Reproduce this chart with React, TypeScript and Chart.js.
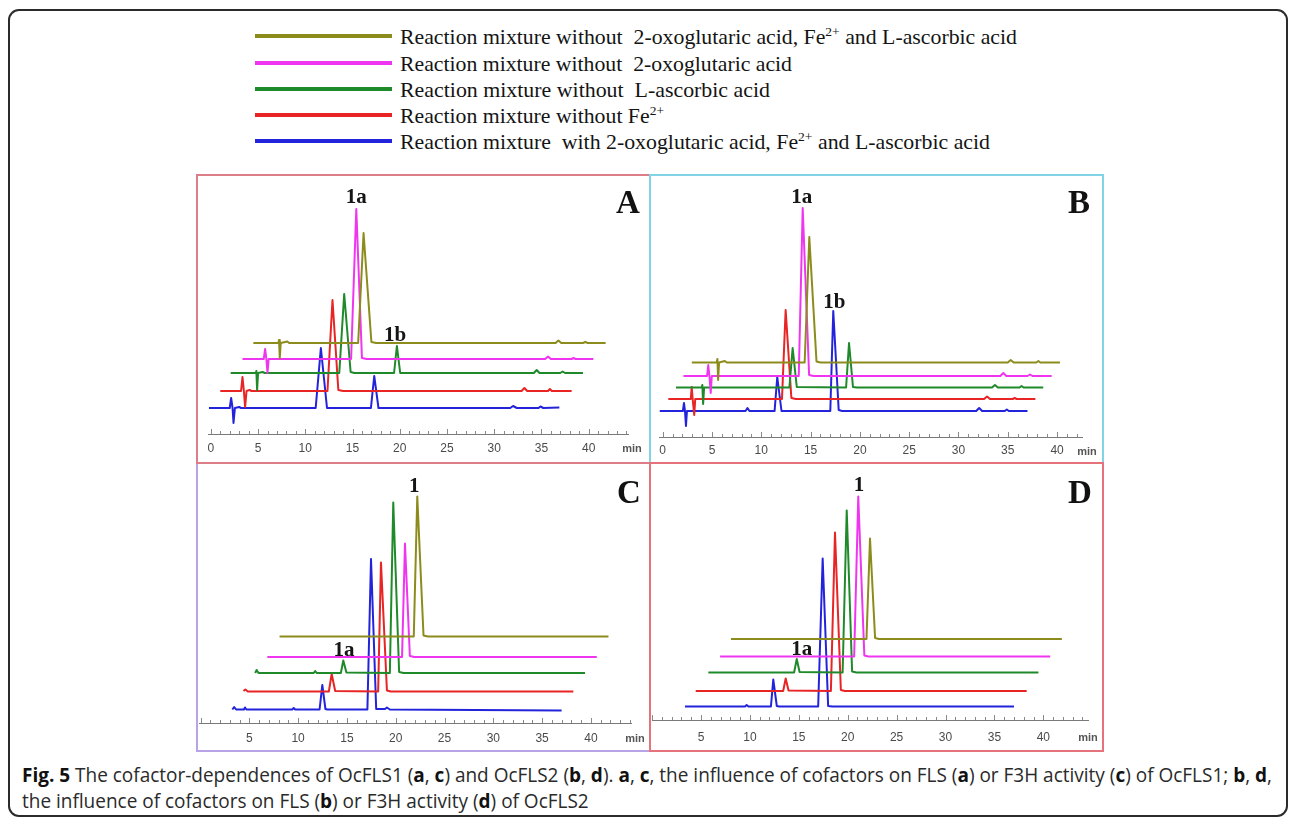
import React, { useEffect, useLayoutEffect, useRef } from 'react';
import { Chart, registerables } from 'chart.js';

Chart.register(...registerables);

type Pt = [number, number]; // [retention time (min), plotted intensity]

// ---------- Legend ----------
const SERIES_NAMES = [
  'Reaction mixture without  2-oxoglutaric acid, Fe2+ and L-ascorbic acid',
  'Reaction mixture without  2-oxoglutaric acid',
  'Reaction mixture without  L-ascorbic acid',
  'Reaction mixture without Fe2+',
  'Reaction mixture  with 2-oxoglutaric acid, Fe2+ and L-ascorbic acid',
];

// ---------- Axis tick labels ----------
const TICKS_AB = [0, 5, 10, 15, 20, 25, 30, 35, 40];
const TICKS_CD = [5, 10, 15, 20, 25, 30, 35, 40];

// ---------- Panel A ----------
const A_OLIVE: Pt[] = [[4.5, 91], [7.15, 91], [7.22, 94], [7.3, 76], [7.4, 91], [8.1, 92.5], [8.3, 91], [15.6, 91], [16.17, 201], [17.0, 92], [17.5, 91], [36.5, 91], [36.8, 93.5], [37.1, 91], [39.4, 91], [39.65, 92], [39.9, 91], [41.8, 91]];
const A_MAGENTA: Pt[] = [[3.35, 75], [5.6, 75], [5.75, 85], [5.88, 75], [6.0, 61], [6.12, 75], [14.85, 75], [15.4, 225], [16.0, 76], [16.5, 75], [35.4, 75], [35.7, 77.5], [36.0, 75], [38.2, 75], [38.4, 76], [38.6, 75], [40.5, 75]];
const A_GREEN: Pt[] = [[2.1, 61], [4.75, 61], [4.82, 63], [4.9, 44], [5.0, 61], [5.5, 62], [5.7, 61], [13.6, 61], [14.12, 140], [14.8, 62], [15.2, 61], [19.4, 61], [19.7, 88], [20.05, 61], [34.2, 61], [34.5, 64], [34.8, 61], [37.0, 61], [37.25, 62.5], [37.5, 61], [39.4, 61]];
const A_RED: Pt[] = [[1.0, 43], [3.2, 43], [3.35, 57], [3.5, 43], [3.63, 27], [3.78, 43], [4.1, 44], [4.3, 43], [12.35, 43], [12.88, 134], [13.5, 44], [14.0, 43], [32.9, 43], [33.2, 46], [33.5, 43], [35.7, 43], [35.9, 45], [36.1, 43], [38.2, 43]];
const A_BLUE: Pt[] = [[-0.2, 26], [2.0, 26], [2.15, 36], [2.3, 26], [2.4, 11], [2.55, 26], [3.0, 27], [3.2, 26], [11.1, 26], [11.65, 86], [12.3, 26], [16.95, 26], [17.3, 58], [17.75, 26], [31.7, 26], [32.0, 28], [32.4, 26], [34.7, 26], [34.9, 27.5], [35.2, 26], [36.9, 26.5]];
const A_LABELS: [string, number, number][] = [['1a', 15.4, 236], ['1b', 19.5, 98]];

// ---------- Panel B ----------
const B_OLIVE: Pt[] = [[2.95, 74.5], [5.48, 74.5], [5.55, 78], [5.62, 57], [5.72, 74.5], [6.3, 76], [6.5, 74.5], [14.4, 74.5], [14.87, 200], [15.6, 75.5], [16.0, 74.5], [35.0, 74.5], [35.3, 77], [35.6, 74.5], [37.9, 74.5], [38.1, 76], [38.3, 74.5], [40.3, 74.5]];
const B_MAGENTA: Pt[] = [[2.1, 61], [4.5, 61], [4.62, 72], [4.74, 61], [4.87, 44], [4.98, 61], [13.8, 61], [14.2, 229], [14.85, 62], [15.3, 61], [34.25, 61], [34.55, 64], [34.85, 61], [37.0, 61], [37.25, 62.5], [37.5, 61], [39.45, 61]];
const B_GREEN: Pt[] = [[1.35, 49.5], [3.95, 49.5], [4.02, 52], [4.1, 33], [4.2, 49.5], [12.85, 49.5], [13.18, 89], [13.6, 50], [18.6, 49.5], [18.9, 94], [19.3, 50], [19.7, 49.5], [33.4, 49.5], [33.7, 52], [34.0, 49.5], [36.2, 49.5], [36.4, 51], [36.6, 49.5], [38.6, 49.5]];
const B_RED: Pt[] = [[0.57, 38], [2.85, 38], [2.94, 50], [3.04, 38], [3.2, 22], [3.3, 38], [12.1, 38], [12.47, 127], [13.05, 39], [13.5, 38], [32.6, 38], [32.9, 40.5], [33.2, 38], [35.5, 38], [35.7, 39], [35.9, 38], [37.8, 38]];
const B_BLUE: Pt[] = [[-0.3, 26], [2.05, 26], [2.16, 34], [2.26, 26], [2.36, 11], [2.46, 26], [8.4, 26], [8.6, 29], [8.8, 26], [11.35, 26], [11.62, 60], [12.05, 26], [17.0, 26], [17.3, 126], [17.85, 27], [18.2, 26], [31.8, 26], [32.1, 29], [32.4, 26], [34.7, 26], [34.9, 27.5], [35.1, 26], [37.0, 26]];
const B_LABELS: [string, number, number][] = [['1a', 14.1, 239], ['1b', 17.4, 134]];

// ---------- Panel C ----------
const C_OLIVE: Pt[] = [[8.1, 86.5], [21.85, 86.5], [22.21, 226.5], [22.85, 87.5], [23.3, 86.5], [41.8, 86.5]];
const C_MAGENTA: Pt[] = [[6.85, 66], [20.65, 66], [20.95, 179.5], [21.45, 67], [21.9, 66], [40.6, 66]];
const C_GREEN: Pt[] = [[5.6, 50], [5.75, 53], [5.95, 50], [11.6, 50], [11.75, 52], [11.9, 50], [14.38, 50], [14.63, 62.5], [14.95, 50.5], [19.4, 50], [19.75, 220.5], [20.35, 51], [20.8, 50], [39.4, 50]];
const C_RED: Pt[] = [[4.4, 32], [4.6, 33.5], [4.85, 31.5], [13.15, 31.5], [13.44, 49], [13.8, 32], [18.2, 31.5], [18.49, 160.5], [19.1, 32.5], [19.5, 31.5], [38.2, 31.5]];
const C_BLUE: Pt[] = [[3.26, 13.5], [3.45, 16], [3.65, 13.5], [4.45, 13.5], [4.56, 15.5], [4.7, 13.5], [9.4, 13.5], [9.55, 15], [9.7, 13.5], [12.2, 13.5], [12.48, 38], [12.8, 14], [13.0, 13.5], [17.1, 13.5], [17.47, 164], [18.0, 14], [18.9, 14], [19.1, 15.5], [19.4, 13.5], [37.0, 12.5]];
const C_LABELS: [string, number, number][] = [['1', 21.9, 236], ['1a', 14.7, 72]];

// ---------- Panel D ----------
const D_OLIVE: Pt[] = [[8.07, 81], [21.92, 81], [22.28, 181.5], [22.8, 82], [23.2, 81], [41.9, 81]];
const D_MAGENTA: Pt[] = [[6.95, 63.5], [20.66, 63.5], [21.08, 223.5], [21.7, 64.5], [22.1, 63.5], [40.7, 63.5]];
const D_GREEN: Pt[] = [[5.75, 47.5], [14.52, 47.5], [14.79, 61], [15.08, 48], [19.48, 47.5], [19.9, 209.5], [20.45, 48.5], [20.9, 47.5], [39.5, 47.5]];
const D_RED: Pt[] = [[4.46, 29], [13.4, 29], [13.66, 41.5], [13.95, 29.5], [18.28, 29], [18.7, 187.5], [19.3, 30], [19.7, 29], [38.3, 29]];
const D_BLUE: Pt[] = [[3.36, 13.5], [9.5, 13.5], [9.67, 15], [9.85, 13.5], [12.15, 13.5], [12.39, 40.5], [12.75, 14], [13.0, 13.5], [16.98, 13.5], [17.44, 161.5], [18.0, 14], [18.4, 13.5], [37.0, 13.5]];
const D_LABELS: [string, number, number][] = [['1', 21.15, 234], ['1a', 15.3, 70]];

// ---------- Styles ----------
const COLORS = ['#8c8c1c', '#f035f0', '#1f8a2a', '#e82424', '#2323dc'];

type PanelCfg = {
  key: string; traces: Pt[][]; labels: [string, number, number][]; ticks: number[];
  left: number; top: number; w: number; h: number; padL: number; padR: number;
  xmin: number; xmax: number; ymax: number; axisH: number; tickPad: number;
  border: string; box: [number, number, number, number];
  letter: [number, number]; minPos: [number, number];
};

const PANELS: PanelCfg[] = [
  { key: 'C', traces: [C_OLIVE, C_MAGENTA, C_GREEN, C_RED, C_BLUE], labels: C_LABELS, ticks: TICKS_CD,
    left: 198, top: 464, w: 451, h: 286, padL: 1, padR: 17.1, xmin: -0.154, xmax: 44.2, ymax: 259, axisH: 27, tickPad: 8,
    border: '#b7a3e6', box: [196, 462, 455, 290], letter: [629, 492], minPos: [635, 738] },
  { key: 'A', traces: [A_OLIVE, A_MAGENTA, A_GREEN, A_RED, A_BLUE], labels: A_LABELS, ticks: TICKS_AB,
    left: 198, top: 176, w: 451, h: 286, padL: 10, padR: 20.7, xmin: -0.3, xmax: 44.2, ymax: 258, axisH: 28, tickPad: 7,
    border: '#dd7d88', box: [196, 174, 455, 290], letter: [628, 202], minPos: [632, 448] },
  { key: 'B', traces: [B_OLIVE, B_MAGENTA, B_GREEN, B_RED, B_BLUE], labels: B_LABELS, ticks: TICKS_AB,
    left: 651, top: 176, w: 451, h: 286, padL: 8.05, padR: 19.3, xmin: -0.37, xmax: 42.6, ymax: 261, axisH: 25, tickPad: 6,
    border: '#82d3e6', box: [649, 174, 455, 290], letter: [1079, 202], minPos: [1087, 451] },
  { key: 'D', traces: [D_OLIVE, D_MAGENTA, D_GREEN, D_RED, D_BLUE], labels: D_LABELS, ticks: TICKS_CD,
    left: 651, top: 464, w: 451, h: 286, padL: 1, padR: 13.7, xmin: -0.01, xmax: 44.6, ymax: 256, axisH: 30, tickPad: 10,
    border: '#e6727c', box: [649, 462, 455, 290], letter: [1080, 492], minPos: [1088, 737] },
];

const peakLabelPlugin = {
  id: 'peakLabels',
  afterDatasetsDraw(chart: any, _args: any, opts: any) {
    const { ctx } = chart;
    const x = chart.scales.x, y = chart.scales.y;
    ctx.save();
    ctx.font = 'bold 21px "Liberation Serif", "Times New Roman", serif';
    ctx.fillStyle = '#151515';
    ctx.textAlign = 'center';
    ctx.textBaseline = 'middle';
    for (const [text, t, v] of (opts.items || [])) {
      ctx.fillText(text, x.getPixelForValue(t), y.getPixelForValue(v));
    }
    ctx.restore();
  },
};

// Tick marks pointing up from the time axis (minor every 1 min, longer every 5 min).
const upTicksPlugin = {
  id: 'upTicks',
  afterDraw(chart: any) {
    const { ctx, chartArea } = chart;
    const x = chart.scales.x;
    ctx.save();
    ctx.strokeStyle = '#8a8a8a';
    ctx.lineWidth = 1;
    ctx.beginPath();
    for (const t of x.ticks) {
      const px = Math.round(x.getPixelForValue(t.value)) + 0.5;
      const len = Math.round(t.value) % 5 === 0 ? 5 : 3;
      ctx.moveTo(px, chartArea.bottom);
      ctx.lineTo(px, chartArea.bottom - len);
    }
    ctx.stroke();
    ctx.restore();
  },
};

function Panel({ p }: { p: PanelCfg }) {
  const ref = useRef<HTMLCanvasElement>(null);
  useEffect(() => {
    const chart = new Chart(ref.current as HTMLCanvasElement, {
      type: 'line',
      data: {
        datasets: p.traces.map((tr, i) => ({
          data: tr.map(([x, y]) => ({ x, y })),
          borderColor: COLORS[i],
          borderWidth: 2,
          pointRadius: 0,
          tension: 0,
          fill: false,
          borderJoinStyle: 'round' as const,
        })),
      },
      options: {
        animation: false,
        responsive: false,
        devicePixelRatio: 1,
        events: [],
        layout: { padding: { left: p.padL, right: p.padR, top: 0, bottom: 0 } },
        plugins: {
          legend: { display: false },
          tooltip: { enabled: false },
          // @ts-ignore
          peakLabels: { items: p.labels },
        },
        scales: {
          x: {
            type: 'linear',
            min: p.xmin,
            max: p.xmax,
            afterFit: (s: any) => { s.height = p.axisH; },
            ticks: {
              stepSize: 1,
              includeBounds: false,
              autoSkip: false,
              maxRotation: 0,
              padding: 0,
              color: '#4a4a4a',
              font: { family: '"Liberation Sans", Arial, sans-serif', size: 12 },
              callback: (v: any) => {
                const r = Math.round(Number(v));
                return Math.abs(Number(v) - r) < 1e-6 && p.ticks.includes(r) ? String(r) : '';
              },
            },
            grid: { drawOnChartArea: false, drawTicks: true, tickLength: p.tickPad, tickColor: 'rgba(0,0,0,0)', color: '#8a8a8a' },
            border: { color: '#7a7a7a', width: 1 },
          },
          y: { display: false, min: 0, max: p.ymax },
        },
      },
      plugins: [peakLabelPlugin, upTicksPlugin],
    } as any);
    return () => chart.destroy();
  }, []);
  return (
    <canvas ref={ref} width={p.w} height={p.h}
      style={{ position: 'absolute', left: p.left, top: p.top, width: p.w, height: p.h }} />
  );
}

function FitText({ left, cy, width, style, children }: any) {
  const ref = useRef<HTMLDivElement>(null);
  useLayoutEffect(() => {
    const fit = () => {
      const el = ref.current;
      if (!el) return;
      el.style.transform = 'translateY(-50%)';
      const w = el.getBoundingClientRect().width;
      if (w > 0) el.style.transform = `translateY(-50%) scaleX(${width / w})`;
    };
    fit();
    (document as any).fonts?.ready?.then(fit);
  }, [width]);
  return (
    <div ref={ref} style={{ position: 'absolute', left, top: cy, whiteSpace: 'pre', lineHeight: 1,
      transformOrigin: 'left center', ...style }}>{children}</div>
  );
}

function withSup(s: string) {
  const parts = s.split('Fe2+');
  const out: any[] = [];
  parts.forEach((pt, i) => {
    out.push(<span key={'t' + i}>{pt}</span>);
    if (i < parts.length - 1) out.push(<span key={'f' + i}>Fe<sup style={{ fontSize: '0.62em', lineHeight: 0 }}>2+</sup></span>);
  });
  return out;
}

const LEGEND_ROWS_Y = [36, 63, 89, 115, 141];
const LEGEND_WIDTHS = [617, 392, 370, 264, 590];

const CAPTION_1: [string, boolean][] = [
  ['Fig. 5', true], [' The cofactor-dependences of OcFLS1 (', false], ['a', true], [', ', false], ['c', true],
  [') and OcFLS2 (', false], ['b', true], [', ', false], ['d', true], ['). ', false], ['a', true], [', ', false],
  ['c', true], [', the influence of cofactors on FLS (', false], ['a', true], [') or F3H activity (', false],
  ['c', true], [') of OcFLS1; ', false], ['b', true], [', ', false], ['d', true], [',', false],
];
const CAPTION_2: [string, boolean][] = [
  ['the influence of cofactors on FLS (', false], ['b', true], [') or F3H activity (', false], ['d', true], [') of OcFLS2', false],
];

function captionSpans(segs: [string, boolean][]) {
  return segs.map(([t, b], i) => (
    <span key={i} style={{ fontWeight: b ? 700 : 400, color: b ? '#111' : '#2a2a2a' }}>{t}</span>
  ));
}

// Caption: both lines share one condensed scale, fitted so that the first line spans the frame.
function Caption() {
  const r1 = useRef<HTMLDivElement>(null);
  const r2 = useRef<HTMLDivElement>(null);
  useLayoutEffect(() => {
    const fit = () => {
      const a = r1.current, b = r2.current;
      if (!a || !b) return;
      a.style.transform = 'translateY(-50%)';
      const w1 = a.getBoundingClientRect().width;
      const s = 1250 / w1;
      a.style.transform = `translateY(-50%) scaleX(${s})`;
      b.style.transform = `translateY(-50%) scaleX(${s})`;
    };
    fit();
    (document as any).fonts?.ready?.then(fit);
  }, []);
  const st: any = { position: 'absolute', left: 22, whiteSpace: 'pre', lineHeight: 1, transformOrigin: 'left center',
    font: '20px "Open Sans", sans-serif' };
  return (
    <>
      <div ref={r1} style={{ ...st, top: 774 }}>{captionSpans(CAPTION_1)}</div>
      <div ref={r2} style={{ ...st, top: 800 }}>{captionSpans(CAPTION_2)}</div>
    </>
  );
}

export default function App() {
  const serif = '"Liberation Serif", "Times New Roman", serif';
  return (
    <div style={{ position: 'absolute', left: 0, top: 0, width: 1292, height: 820, background: '#fff', overflow: 'hidden' }}>
      {/* outer frame */}
      <div style={{ position: 'absolute', left: 8, top: 9, width: 1280, height: 808, border: '2px solid #2b2b2b',
        borderRadius: 11, boxSizing: 'border-box' }} />

      {/* legend */}
      {SERIES_NAMES.map((name, i) => (
        <React.Fragment key={i}>
          <div style={{ position: 'absolute', left: 255, top: LEGEND_ROWS_Y[i] - 2, width: 137, height: 4, background: COLORS[i] }} />
          <FitText left={400} cy={LEGEND_ROWS_Y[i] + 1} width={LEGEND_WIDTHS[i]}
            style={{ font: `21px ${serif}`, color: '#141414' }}>{withSup(name)}</FitText>
        </React.Fragment>
      ))}

      {/* panels */}
      {PANELS.map((p) => <Panel key={p.key} p={p} />)}
      {PANELS.map((p) => (
        <div key={'b' + p.key} style={{ position: 'absolute', left: p.box[0], top: p.box[1], width: p.box[2], height: p.box[3],
          border: `2px solid ${p.border}`, boxSizing: 'border-box' }} />
      ))}
      {PANELS.map((p) => (
        <div key={'l' + p.key} style={{ position: 'absolute', left: p.letter[0], top: p.letter[1], transform: 'translate(-50%, -50%)',
          font: `bold 33px ${serif}`, color: '#111', lineHeight: 1 }}>{p.key}</div>
      ))}
      {PANELS.map((p) => (
        <div key={'m' + p.key} style={{ position: 'absolute', left: p.minPos[0], top: p.minPos[1], transform: 'translate(-50%, -50%)',
          font: 'bold 11px "Liberation Sans", Arial, sans-serif', color: '#555', lineHeight: 1 }}>min</div>
      ))}

      {/* caption */}
      <Caption />
    </div>
  );
}
